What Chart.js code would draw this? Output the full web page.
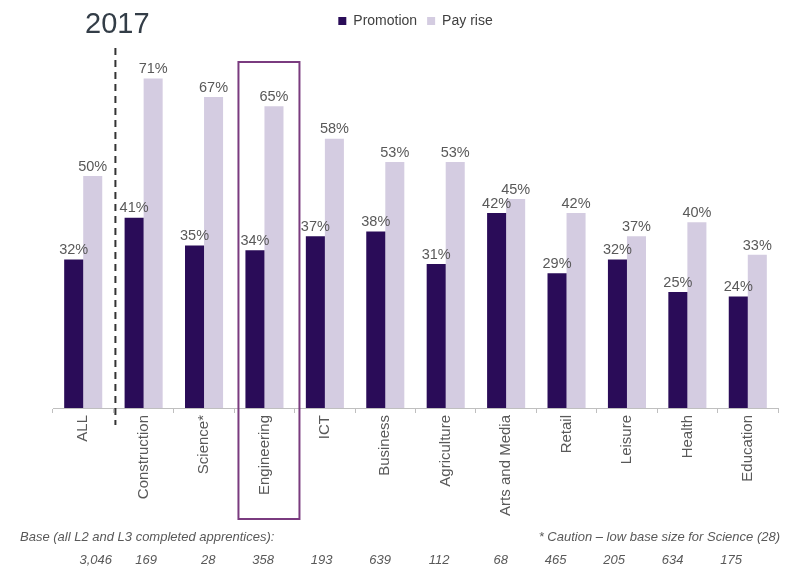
<!DOCTYPE html>
<html>
<head>
<meta charset="utf-8">
<script src="https://cdn.jsdelivr.net/npm/chart.js@4/dist/chart.umd.min.js"></script>
<style>
  html, body { margin: 0; padding: 0; background: #ffffff; }
  #wrap { width: 785px; height: 567px; position: relative; }
</style>
</head>
<body>
<div id="wrap"><canvas id="c" width="785" height="567"></canvas></div>
<script>
const categories = ["ALL", "Construction", "Science*", "Engineering", "ICT", "Business", "Agriculture", "Arts and Media", "Retail", "Leisure", "Health", "Education"];
const promotion = [32, 41, 35, 34, 37, 38, 31, 42, 29, 32, 25, 24];
const payRise   = [50, 71, 67, 65, 58, 53, 53, 45, 42, 37, 40, 33];
const baseSizes = ["3,046", "169", "28", "358", "193", "639", "112", "68", "465", "205", "634", "175"];
const titleText = "2017";
const baseLabel = "Base (all L2 and L3 completed apprentices):";
const cautionLabel = "* Caution \u2013 low base size for Science (28)";
const highlightIndex = 3;

const DARK = "#2a0c58";
const LIGHT = "#d4cce1";
const TEXT = "#595959";
const FONT = "'Liberation Sans', Arial, sans-serif";

const decorPlugin = {
  id: "decor",
  afterDatasetsDraw(chart) {
    const ctx = chart.ctx;
    const x = chart.scales.x;
    ctx.save();
    // value labels
    ctx.font = "14.5px " + FONT;
    ctx.fillStyle = TEXT;
    ctx.textAlign = "center";
    ctx.textBaseline = "bottom";
    chart.data.datasets.forEach((ds, di) => {
      const meta = chart.getDatasetMeta(di);
      meta.data.forEach((el, i) => {
        ctx.fillText(ds.data[i] + "%", el.x, el.y - 2);
      });
    });
    // dashed separator between ALL and sectors
    const sepX = (x.getPixelForValue(0) + x.getPixelForValue(1)) / 2 + 2;
    ctx.strokeStyle = "#333333";
    ctx.lineWidth = 2;
    ctx.setLineDash([7, 5]);
    ctx.beginPath();
    ctx.moveTo(sepX, 48);
    ctx.lineTo(sepX, 425);
    ctx.stroke();
    ctx.setLineDash([]);
    // highlight box
    const cx = x.getPixelForValue(highlightIndex);
    ctx.strokeStyle = "#7a3b7f";
    ctx.lineWidth = 2;
    ctx.strokeRect(cx - 26, 62, 61, 457);
    // title
    ctx.fillStyle = "#333d47";
    ctx.font = "29px " + FONT;
    ctx.textAlign = "left";
    ctx.textBaseline = "alphabetic";
    ctx.fillText(titleText, 85, 33);
    // base texts
    ctx.fillStyle = TEXT;
    ctx.font = "italic 13px " + FONT;
    ctx.textBaseline = "middle";
    ctx.textAlign = "left";
    ctx.fillText(baseLabel, 20, 537);
    ctx.textAlign = "right";
    ctx.fillText(cautionLabel, 780, 537);
    baseSizes.forEach((b, i) => {
      const px = i === 0 ? 112 : 157 + (i - 1) * 58.5;
      ctx.fillText(b, px, 560);
    });
    ctx.restore();
  }
};

new Chart(document.getElementById("c"), {
  type: "bar",
  data: {
    labels: categories,
    datasets: [
      { label: "Promotion", data: promotion, backgroundColor: DARK, borderWidth: 0 },
      { label: "Pay rise", data: payRise, backgroundColor: LIGHT, borderWidth: 0 }
    ]
  },
  options: {
    responsive: false,
    animation: false,
    devicePixelRatio: 1,
    layout: { padding: { left: 53, right: 7, top: 4, bottom: 0 } },
    datasets: { bar: { categoryPercentage: 0.63, barPercentage: 1.0 } },
    plugins: {
      legend: {
        display: true,
        position: "top",
        labels: {
          boxWidth: 8, boxHeight: 8, padding: 10,
          color: "#404040",
          font: { size: 14, family: FONT }
        }
      },
      tooltip: { enabled: false }
    },
    scales: {
      x: {
        offset: true,
        grid: { display: true, offset: true, drawOnChartArea: false, drawTicks: true, tickLength: 5, color: "#bfbfbf" },
        border: { display: true, color: "#bfbfbf", width: 1 },
        ticks: {
          maxRotation: 90, minRotation: 90, padding: 2, autoSkip: false,
          color: TEXT,
          font: { size: 15, family: FONT }
        },
        afterFit(s) { s.height = 159; }
      },
      y: {
        display: false,
        min: 0,
        max: 79.7
      }
    }
  },
  plugins: [decorPlugin]
});
</script>
</body>
</html>
